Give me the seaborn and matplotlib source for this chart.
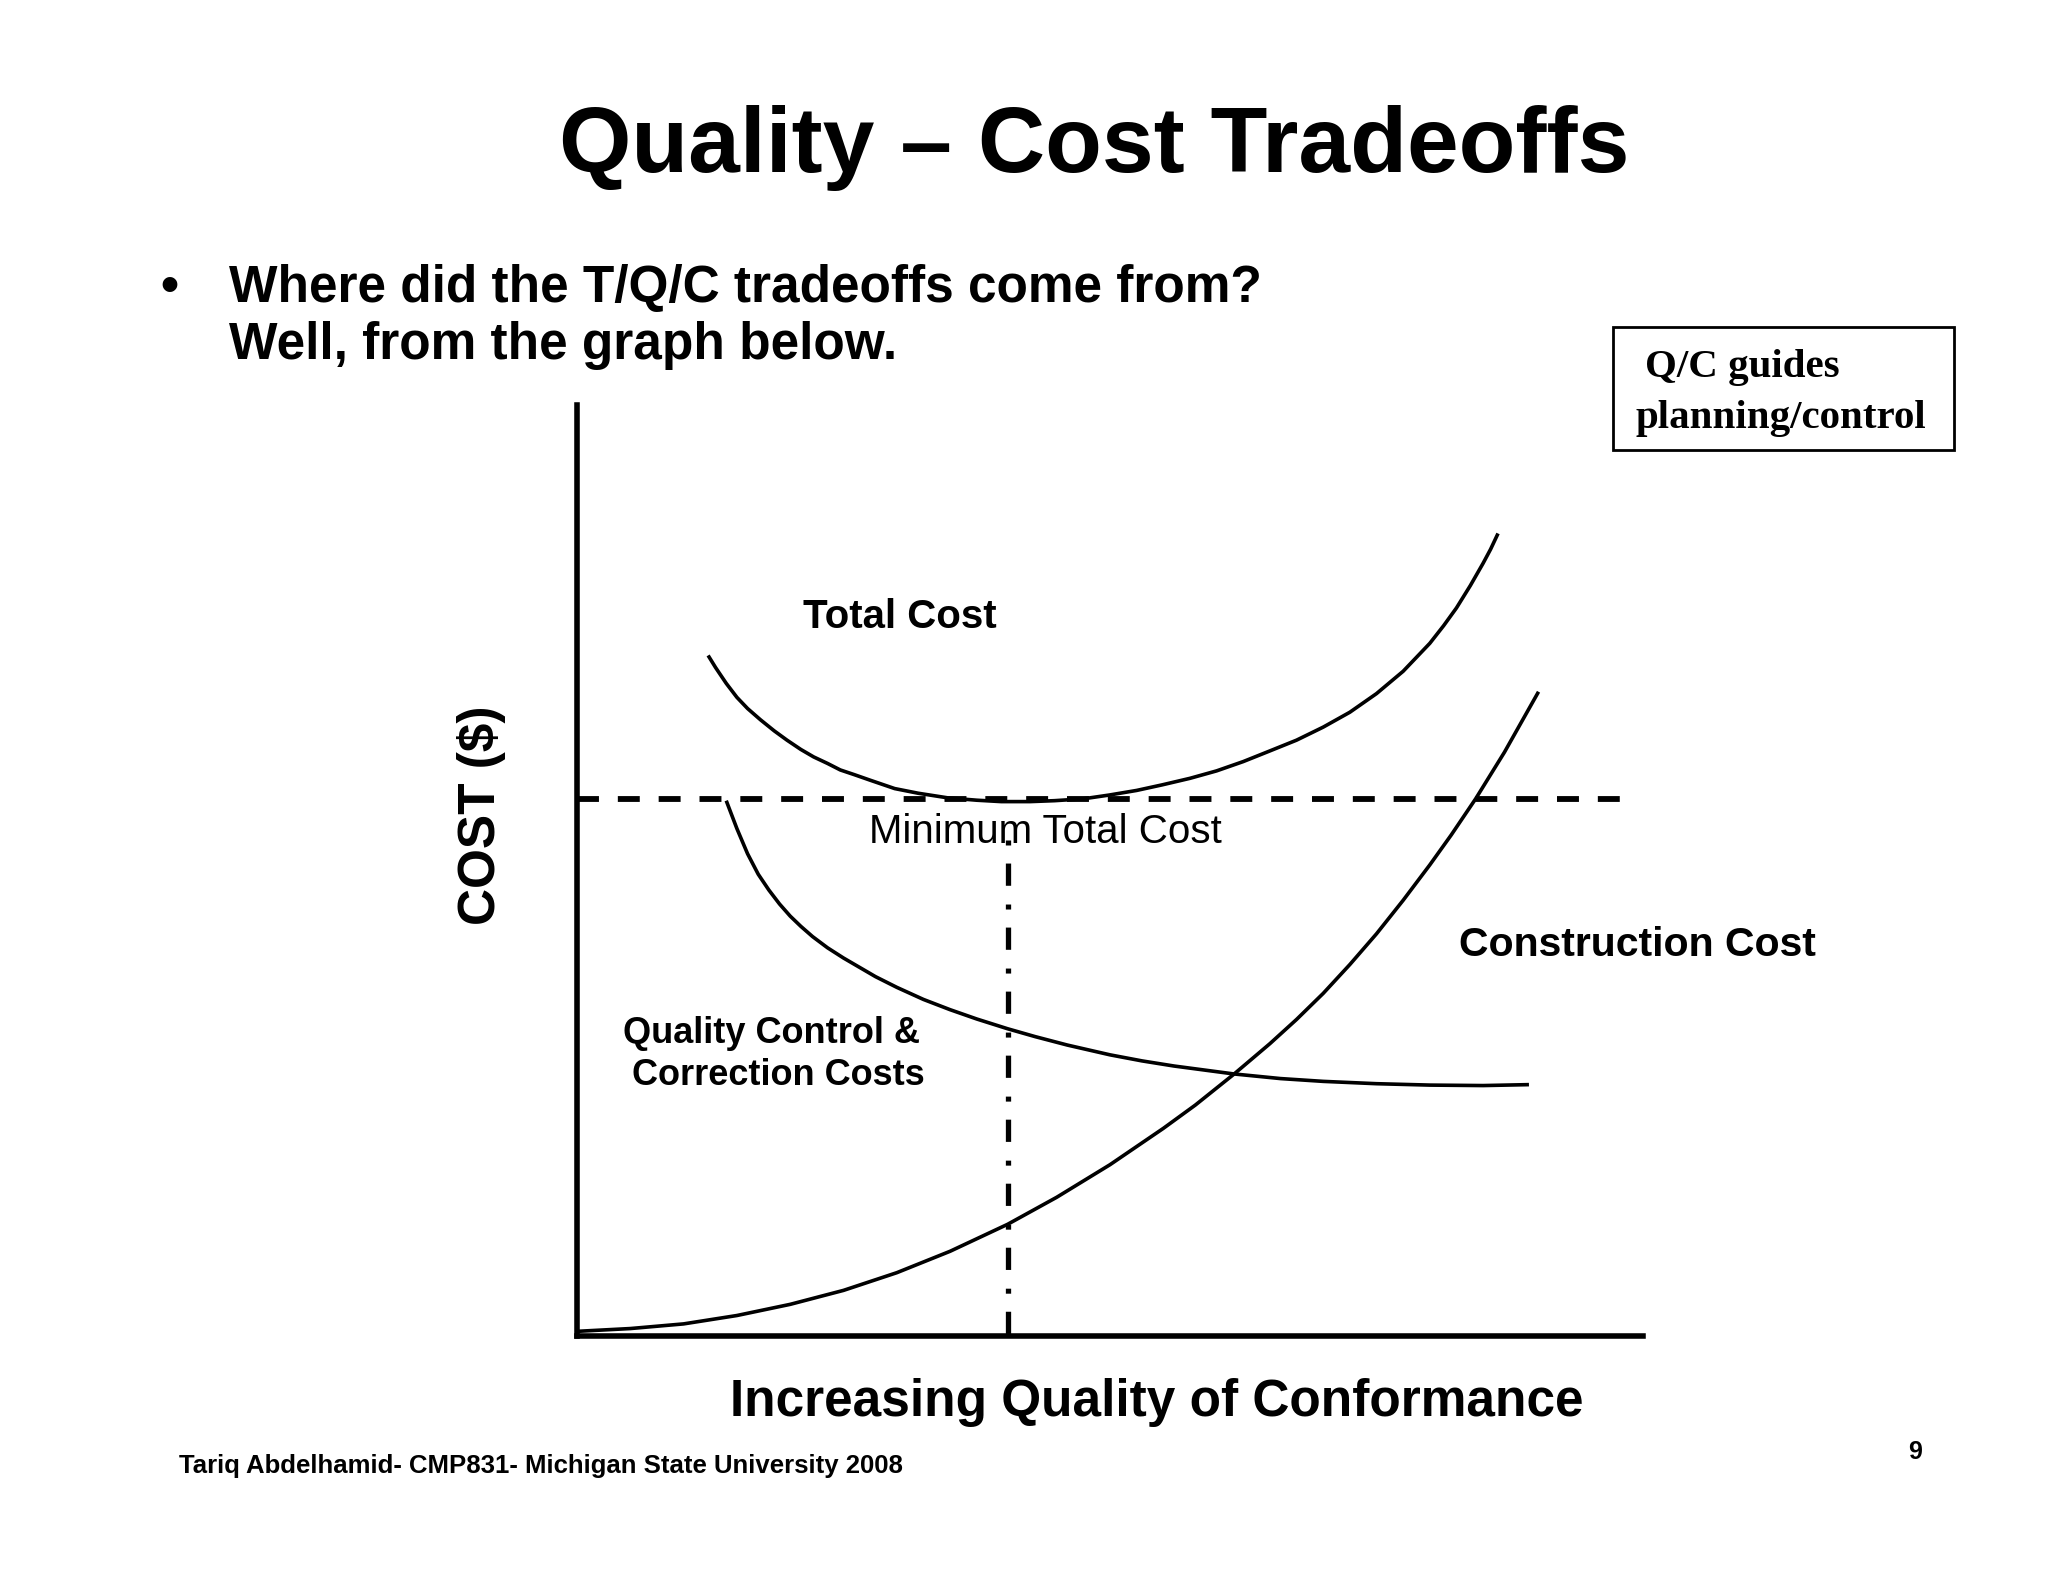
import matplotlib
matplotlib.use("Agg")
import matplotlib.pyplot as plt
from matplotlib.patches import Rectangle
import pandas as pd
import seaborn as sns

# --- values (x = quality of conformance, y = cost, 0-10 units) ---
total_x = [1.23, 1.30, 1.40, 1.50, 1.60, 1.72, 1.85, 1.97, 2.10, 2.22, 2.35, 2.47,
           2.60, 2.75, 2.98, 3.20, 3.48, 3.75, 3.98, 4.25, 4.48, 4.75, 4.99, 5.25,
           5.49, 5.75, 6.00, 6.25, 6.49, 6.75, 7.00, 7.25, 7.50, 7.75, 8.00, 8.13,
           8.25, 8.38, 8.50, 8.57, 8.64]
total_y = [7.31, 7.18, 7.01, 6.86, 6.74, 6.62, 6.50, 6.40, 6.30, 6.22, 6.15, 6.08,
           6.03, 5.97, 5.88, 5.83, 5.78, 5.755, 5.74, 5.74, 5.75, 5.77, 5.81, 5.86,
           5.92, 5.99, 6.07, 6.17, 6.28, 6.40, 6.54, 6.70, 6.90, 7.14, 7.44, 7.63,
           7.82, 8.06, 8.30, 8.45, 8.62]

qc_x = [1.40, 1.50, 1.60, 1.70, 1.80, 1.90, 2.00, 2.10, 2.21, 2.35, 2.50, 2.65,
        2.80, 3.00, 3.25, 3.50, 3.75, 4.04, 4.30, 4.60, 5.00, 5.30, 5.60, 6.16,
        6.60, 7.00, 7.50, 8.00, 8.50, 8.93]
qc_y = [5.75, 5.45, 5.18, 4.96, 4.79, 4.64, 4.51, 4.40, 4.29, 4.17, 4.06, 3.96,
        3.86, 3.745, 3.615, 3.505, 3.405, 3.30, 3.215, 3.125, 3.02, 2.955, 2.90, 2.815,
        2.765, 2.735, 2.71, 2.695, 2.69, 2.70]

constr_x = [0.0, 0.5, 1.0, 1.5, 2.0, 2.5, 3.0, 3.5, 4.04, 4.5, 5.0, 5.5, 5.8,
            6.16, 6.5, 6.75, 7.0, 7.25, 7.5, 7.75, 8.0, 8.2, 8.43, 8.7, 9.02]
constr_y = [0.05, 0.08, 0.13, 0.22, 0.34, 0.49, 0.68, 0.91, 1.20, 1.49, 1.84, 2.23, 2.48,
            2.81, 3.14, 3.40, 3.68, 3.99, 4.32, 4.68, 5.06, 5.38, 5.77, 6.27, 6.92]

min_cost_level = 5.77      # dashed horizontal
min_cost_quality = 4.04    # dash-dot vertical
min_line_end = 9.78
min_vline_top = 5.33

sns.set_style("white")
plt.rcParams['font.family'] = ['Liberation Sans', 'DejaVu Sans']
plt.rcParams['text.color'] = 'black'
plt.rcParams['lines.scale_dashes'] = False

W, H = 2048, 1582
fig = plt.figure(figsize=(W / 100, H / 100), dpi=100)


def fx(px):
    return px / W


def fy(py):
    return 1 - py / H


ax = fig.add_axes([fx(577), fy(1336), fx(1643) - fx(577), fy(405) - fy(1336)])
ax.set_xlim(0, 10)
ax.set_ylim(0, 10)

curves = pd.concat([
    pd.DataFrame({'quality': total_x, 'cost': total_y, 'curve': 'Total Cost'}),
    pd.DataFrame({'quality': qc_x, 'cost': qc_y, 'curve': 'QC'}),
    pd.DataFrame({'quality': constr_x, 'cost': constr_y, 'curve': 'Construction'}),
])
for name, grp in curves.groupby('curve'):
    sns.lineplot(data=grp, x='quality', y='cost', color='black', lw=2.6,
                 ax=ax, clip_on=False, solid_capstyle='butt', solid_joinstyle='round')

ax.hlines(min_cost_level, 0, min_line_end, colors='black', lw=4.2,
          linestyles=[(0, (15.8, 13.6))])
# drawn from the top down so the pattern starts with the dot under the label
ax.vlines(min_cost_quality, min_vline_top, 0, colors='black', lw=3.8,
          linestyles=[(0, (3.6, 13.0, 16.0, 13.5))])

sns.despine(ax=ax)
for side in ['left', 'bottom']:
    ax.spines[side].set_linewidth(4)
    ax.spines[side].set_color('black')
ax.set_xticks([])
ax.set_yticks([])
ax.set_xlabel('')
ax.set_ylabel('')

# labels inside the plot
ax.text(2.12, 7.605, 'Total Cost', fontsize=29, fontweight='bold', va='baseline')
ax.text(2.737, 5.30, 'Minimum Total Cost', fontsize=29, va='baseline')
ax.text(8.27, 4.08, 'Construction Cost', fontsize=29.5, fontweight='bold', va='baseline')
ax.text(0.43, 3.147, 'Quality Control &', fontsize=26, fontweight='bold', va='baseline')
ax.text(0.52, 2.696, 'Correction Costs', fontsize=26, fontweight='bold', va='baseline')

# axis titles
fig.text(fx(482), fy(815), 'COST ($)', rotation=90, fontsize=37, fontweight='bold',
         ha='center', va='center')
fig.text(fx(1157), fy(1416), 'Increasing Quality of Conformance', fontsize=37,
         fontweight='bold', ha='center', va='baseline')

# slide text
fig.text(fx(1094), fy(172), 'Quality \u2013 Cost Tradeoffs', fontsize=67,
         fontweight='bold', ha='center', va='baseline')
fig.text(fx(160), fy(302), '\u2022', fontsize=37, fontweight='bold', va='baseline')
fig.text(fx(229), fy(302), 'Where did the T/Q/C tradeoffs come from?', fontsize=37,
         fontweight='bold', va='baseline')
fig.text(fx(229), fy(359), 'Well, from the graph below.', fontsize=37,
         fontweight='bold', va='baseline')

fig.add_artist(Rectangle((fx(1613), fy(450)), fx(1954) - fx(1613), (450 - 327) / H,
                         transform=fig.transFigure, fill=False, lw=2, ec='black'))
fig.text(fx(1645), fy(377), 'Q/C guides', fontsize=29.5, fontweight='bold',
         family='Liberation Serif', va='baseline')
fig.text(fx(1635), fy(428), 'planning/control', fontsize=29.5, fontweight='bold',
         family='Liberation Serif', va='baseline')

fig.text(fx(179), fy(1473), 'Tariq Abdelhamid- CMP831- Michigan State University 2008',
         fontsize=18.5, fontweight='bold', va='baseline')
fig.text(fx(1915), fy(1459), '9', fontsize=18, fontweight='bold', ha='center',
         va='baseline')

fig.savefig('out.png', dpi=100, facecolor='white')
